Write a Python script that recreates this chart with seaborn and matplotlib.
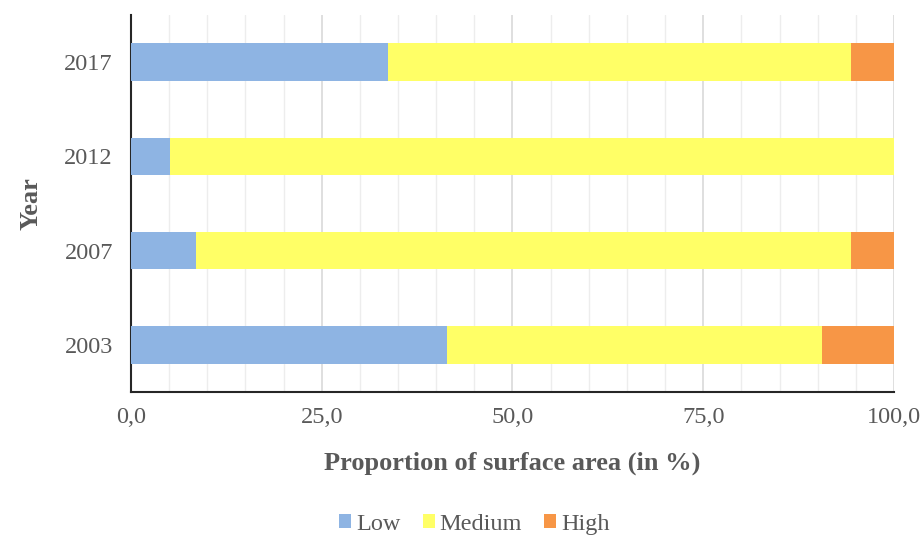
import matplotlib
matplotlib.use("Agg")
import matplotlib.pyplot as plt
from matplotlib.ticker import MultipleLocator, FuncFormatter
from matplotlib.patches import Patch
import seaborn as sns
import pandas as pd
import numpy as np

years = ["2017", "2012", "2007", "2003"]
low = [33.7, 5.1, 8.5, 41.4]
medium = [60.7, 94.9, 85.9, 49.2]
high = [5.6, 0.0, 5.6, 9.4]
series = ["Low", "Medium", "High"]
colors = ["#8EB4E3", "#FFFF66", "#F79646"]

sns.set_theme(style="white")
plt.rcParams["font.family"] = ["Liberation Serif", "DejaVu Serif"]
txt = "#595959"

df = pd.DataFrame({"Year": years, "Low": low, "Medium": medium, "High": high})
df["cum_low"] = df["Low"]
df["cum_med"] = df["Low"] + df["Medium"]
df["cum_high"] = df["cum_med"] + df["High"]

fig = plt.figure(figsize=(9.23, 5.38), dpi=100)
ax = fig.add_axes([0.1419, 0.2714, 0.8267, 0.7006])

for col, c in zip(["cum_high", "cum_med", "cum_low"], colors[::-1]):
    sns.barplot(data=df, x=col, y="Year", order=years, orient="h", color=c,
                width=0.4, linewidth=0, saturation=1, ax=ax, zorder=3)

ax.set_xlim(0, 100)
ax.set_ylim(3.5, -0.5)
ax.xaxis.set_major_locator(MultipleLocator(25))
ax.xaxis.set_minor_locator(MultipleLocator(5))
ax.xaxis.set_major_formatter(FuncFormatter(lambda v, p: f"{v:.1f}".replace(".", ",")))
ax.grid(True, axis="x", which="minor", color="#EDEDED", linewidth=1, zorder=0)
ax.grid(True, axis="x", which="major", color="#D9D9D9", linewidth=1.2, zorder=0)
ax.grid(False, axis="y")
ax.set_axisbelow(True)

for s in ["top", "right"]:
    ax.spines[s].set_visible(False)
for s in ["left", "bottom"]:
    ax.spines[s].set_color("#262626")
    ax.spines[s].set_linewidth(1.5)

ax.tick_params(axis="both", which="both", length=0, labelsize=17.5, colors=txt)
ax.tick_params(axis="x", pad=11)
ax.tick_params(axis="y", pad=13)

ax.set_xlabel("Proportion of surface area (in %)", fontsize=19, fontweight="bold",
              color=txt, labelpad=17)
ax.set_ylabel("Year", fontsize=19, fontweight="bold", color=txt, labelpad=16)

handles = [Patch(facecolor=c, edgecolor="none", label=s) for s, c in zip(series, colors)]
fig.legend(handles=handles, loc="center", bbox_to_anchor=(0.514, 0.025), ncol=3,
           frameon=False, fontsize=17.5, labelcolor=txt, handlelength=0.5,
           handleheight=0.5, handletextpad=0.2, columnspacing=0.9)

fig.savefig("out.png", dpi=100)
